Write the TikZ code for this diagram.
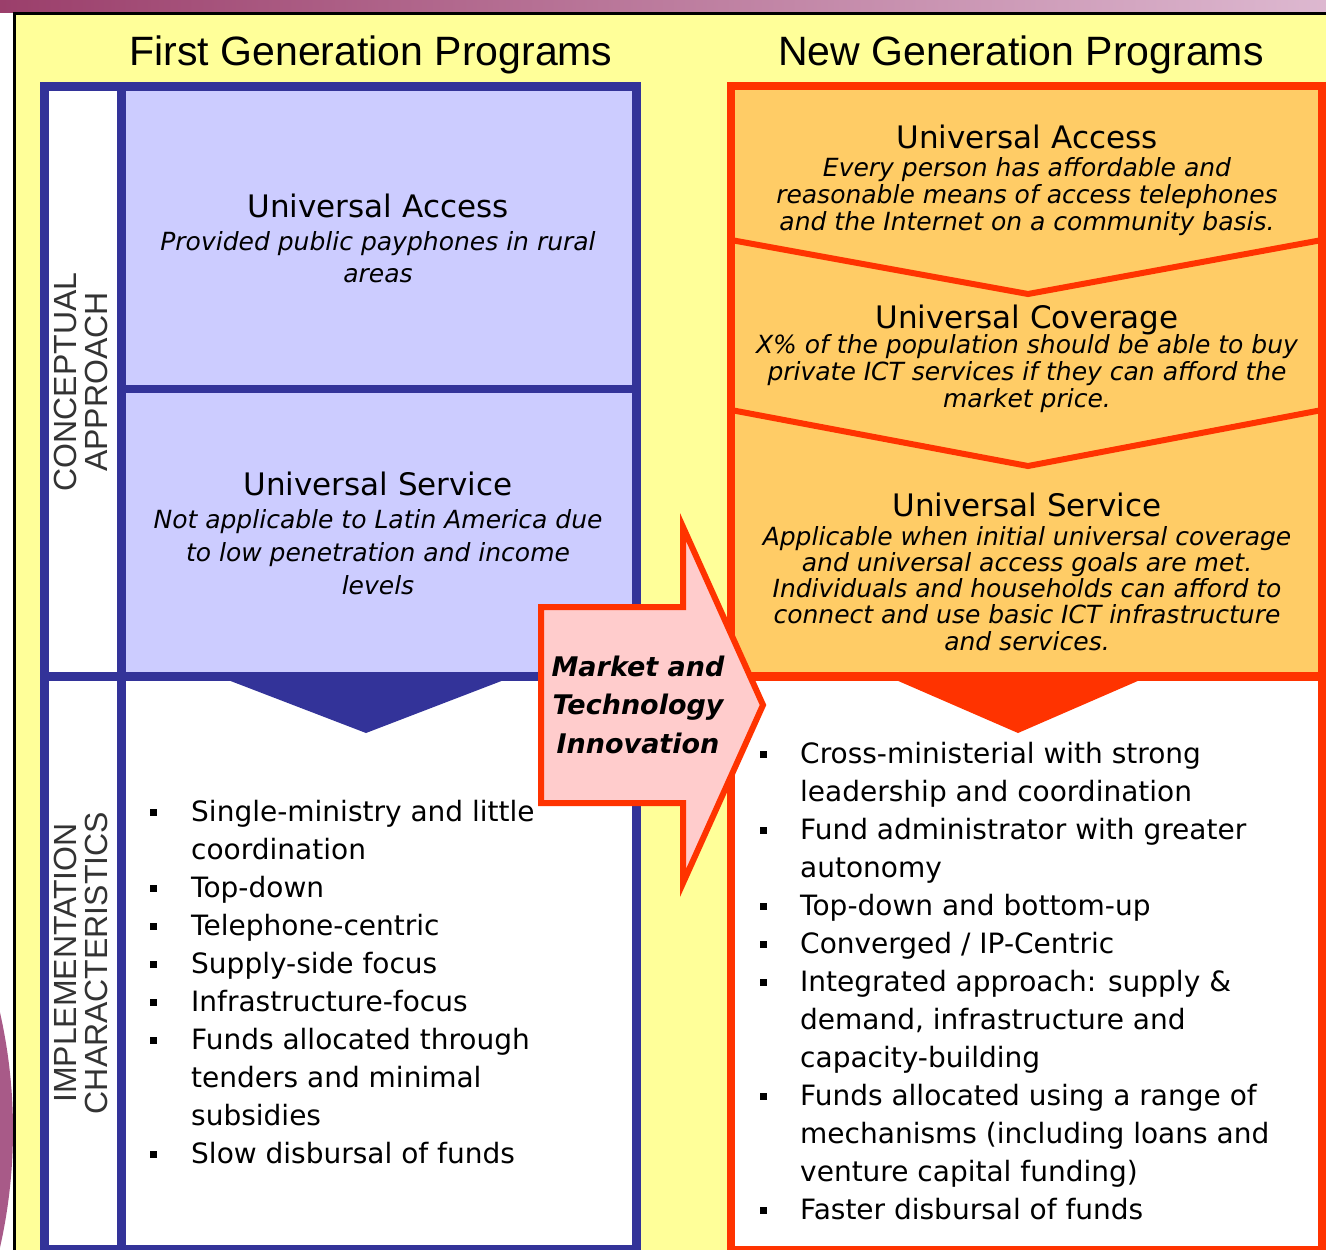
\documentclass[tikz,border=0pt]{standalone}
\usepackage{fontspec}
\setmainfont{DejaVu Sans}
\newfontfamily\headfont{Liberation Sans}
\usetikzlibrary{positioning}

\definecolor{bgyellow}{HTML}{FFFF99}
\definecolor{fgblue}{HTML}{333399}
\definecolor{fglav}{HTML}{CCCCFF}
\definecolor{ngred}{HTML}{FF3300}
\definecolor{ngorange}{HTML}{FFCC66}
\definecolor{arrpink}{HTML}{FFCCCC}
\definecolor{barleft}{HTML}{9B3F6B}
\definecolor{barright}{HTML}{DDB8D0}
\definecolor{ballpurple}{HTML}{A85A88}

\tikzset{
  heading/.style={font=\headfont\fontsize{41}{41}\selectfont, anchor=base, inner sep=0},
  sidelabel/.style={font=\headfont\fontsize{32}{31}\selectfont, rotate=90, align=center, inner sep=0, text=black!80},
  boxtitle/.style={font=\fontsize{31}{31}\selectfont, anchor=base, inner sep=0},
  boxline/.style={font=\itshape\fontsize{25}{25}\selectfont, anchor=base, inner sep=0},
  listline/.style={font=\fontsize{28}{28}\selectfont, anchor=base west, inner sep=0},
  bulletsq/.style={fill=black, minimum size=7pt, inner sep=0},
  arrowline/.style={font=\bfseries\itshape\fontsize{27}{27}\selectfont, anchor=base, inner sep=0},
}

\begin{document}
\begin{tikzpicture}[x=1pt, y=-1pt, line join=miter]
  \useasboundingbox (0,0) rectangle (1326,1250);

  % slide frame
  \fill[white] (0,0) rectangle (1326,1250);
  \begin{scope}
    \clip (0,0) rectangle (14,1250);
    \fill[ballpurple] (-520,1130) circle (533);
  \end{scope}
  \shade[left color=barleft, right color=barright] (0,0) rectangle (1326,12);
  \fill[bgyellow] (15,14) rectangle (1326,1250);
  \draw[line width=3] (14.5,1250) -- (14.5,13.5) -- (1326,13.5);

  % first generation panel
  \fill[white] (44,86) rectangle (636,1250);
  \fill[fglav] (121.5,86) rectangle (636,676.5);
  \draw[fgblue, line width=9] (44,86) rectangle (636,1249.5);
  \draw[fgblue, line width=9] (121.5,86) -- (121.5,1249.5);
  \draw[fgblue, line width=9] (44,676.5) -- (636,676.5);
  \draw[fgblue, line width=8] (121.5,389) -- (636,389);
  \fill[fgblue] (228,680) -- (504,680) -- (366,733) -- cycle;

  % new generation panel
  \fill[white] (731,86) rectangle (1322,1249.5);
  \fill[ngorange] (731,86) rectangle (1322,676.5);
  \draw[ngred, line width=6] (731,240) -- (1028,294) -- (1322,240);
  \draw[ngred, line width=6] (731,410) -- (1028,466) -- (1322,410);
  \draw[ngred, line width=9] (731,676.5) -- (1322,676.5);
  \draw[ngred, line width=8] (731,86) rectangle (1322,1249.5);
  \fill[ngred] (896,680) -- (1140,680) -- (1018,733) -- cycle;

  % big arrow
  \draw[ngred, fill=arrpink, line width=6] (541,607) -- (683,607) -- (683,527)
    -- (763,705) -- (683,883) -- (683,803) -- (541,803) -- cycle;

  % headings
  \node[heading] (fgtitle) at (371,65) {First Generation Programs};
  \node[heading] (ngtitle) at (1021,65) {New Generation Programs};

  \node[sidelabel] (conc) at (81,382) {CONCEPTUAL\\APPROACH};
  \node[sidelabel] (impl) at (81,963) {IMPLEMENTATION\\CHARACTERISTICS};

  % first generation texts
  \node[boxtitle] (fgua) at (378,217) {Universal Access};
  \foreach \t [count=\i] in {Provided public payphones in rural, areas}
    \node[boxline] (fgua\i) at (378,{250+32*(\i-1)}) {\t};

  \node[boxtitle] (fgus) at (378,495) {Universal Service};
  \foreach \t [count=\i] in {Not applicable to Latin America due, to low penetration and income, levels}
    \node[boxline] (fgus\i) at (378,{528+33*(\i-1)}) {\t};

  \foreach \t [count=\i] in {Single-ministry and little, coordination, Top-down,
      Telephone-centric, Supply-side focus, Infrastructure-focus,
      Funds allocated through, tenders and minimal, subsidies, Slow disbursal of funds}
    \node[listline] (fgl\i) at (191,{821+38.1*(\i-1)}) {\t};
  \foreach \i in {1,3,4,5,6,7,10}
    \node[bulletsq] (fgb\i) at (153,{812+38.1*(\i-1)}) {};

  % new generation texts
  \node[boxtitle] (ngua) at (1027,148) {Universal Access};
  \foreach \t [count=\i] in {Every person has affordable and, reasonable means of access telephones,
      and the Internet on a community basis.}
    \node[boxline] (ngua\i) at (1027,{176+27*(\i-1)}) {\t};

  \node[boxtitle] (ngcov) at (1027,328) {Universal Coverage};
  \foreach \t [count=\i] in {X\% of the population should be able to buy,
      private ICT services if they can afford the, market price.}
    \node[boxline] (ngcov\i) at (1027,{353+27*(\i-1)}) {\t};

  \node[boxtitle] (ngus) at (1027,516) {Universal Service};
  \foreach \t [count=\i] in {Applicable when initial universal coverage,
      and universal access goals are met., Individuals and households can afford to,
      connect and use basic ICT infrastructure, and services.}
    \node[boxline] (ngus\i) at (1027,{545+26.3*(\i-1)}) {\t};

  \foreach \t [count=\i] in {Cross-ministerial with strong, leadership and coordination,
      Fund administrator with greater, autonomy, Top-down and bottom-up,
      Converged / IP-Centric, Integrated approach: supply \&, {demand, infrastructure and},
      capacity-building, Funds allocated using a range of, mechanisms (including loans and,
      venture capital funding), Faster disbursal of funds}
    \node[listline] (ngl\i) at (800,{763+38*(\i-1)}) {\t};
  \foreach \i in {1,3,5,6,7,10,13}
    \node[bulletsq] (ngb\i) at (763,{754+38*(\i-1)}) {};

  % arrow label
  \foreach \t [count=\i] in {Market and, Technology, Innovation}
    \node[arrowline] (mti\i) at (638,{676+38.5*(\i-1)}) {\t};
\end{tikzpicture}
\end{document}
